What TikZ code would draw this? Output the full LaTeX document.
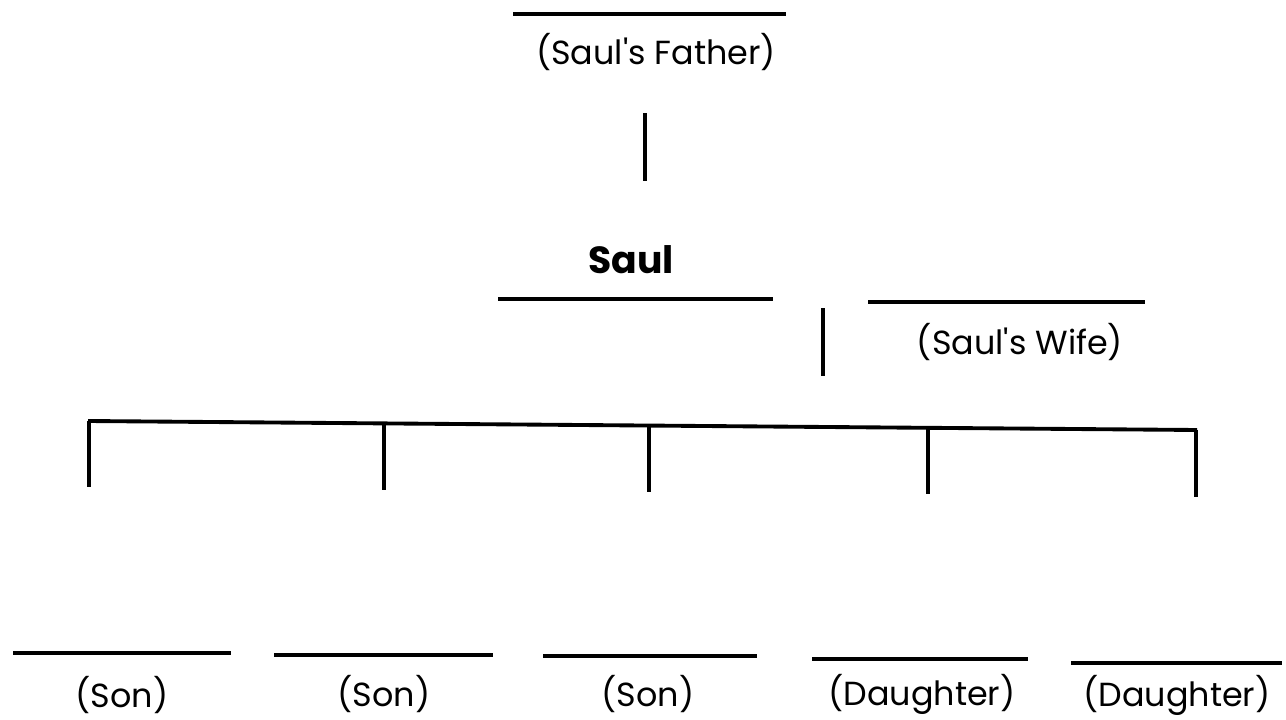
\documentclass[tikz,border=0pt]{standalone}
\usepackage{fontspec}
\setmainfont{Poppins}
\usepackage{tikz}

\tikzset{
	blank/.style={line width=2pt},
	link/.style={line width=2.2pt},
	who/.style={inner sep=0pt,font=\fontsize{19}{22}\selectfont},
	saul/.style={inner sep=0pt,font=\fontsize{21.5}{26}\selectfont\bfseries}
}

\begin{document}
\begin{tikzpicture}[x=0.02cm,y=-0.02cm]
	\useasboundingbox (0,0) rectangle (1286,720);

	% Saul's father
	\coordinate (fatherL) at (513,14);
	\coordinate (fatherR) at (786,14);
	\node[who] (father) at (656,52) {(Saul\textquotesingle s Father)};
	\coordinate (fatherTop) at (645,113);
	\coordinate (fatherBot) at (645,181);

	% Saul and his wife
	\node[saul] (saul) at (631,260) {Saul};
	\coordinate (saulL) at (498,299);
	\coordinate (saulR) at (773,299);
	\coordinate (wifeL) at (868,302);
	\coordinate (wifeR) at (1145,302);
	\node[who] (wife) at (1020,342) {(Saul\textquotesingle s Wife)};
	\coordinate (coupleTop) at (823,308);
	\coordinate (coupleBot) at (823,376);

	% children bar
	\coordinate (barL) at (88,421);
	\coordinate (barR) at (1197,430);
	\coordinate (c1) at (89,421);
	\coordinate (c2) at (384,423);
	\coordinate (c3) at (649,425);
	\coordinate (c4) at (928,428);
	\coordinate (c5) at (1196,430);
	\coordinate (d1) at (89,487);
	\coordinate (d2) at (384,490);
	\coordinate (d3) at (649,492);
	\coordinate (d4) at (928,494);
	\coordinate (d5) at (1196,497);

	% children
	\coordinate (son1L) at (13,653);   \coordinate (son1R) at (231,653);
	\coordinate (son2L) at (274,655);  \coordinate (son2R) at (493,655);
	\coordinate (son3L) at (543,656);  \coordinate (son3R) at (757,656);
	\coordinate (dau1L) at (812,659);  \coordinate (dau1R) at (1028,659);
	\coordinate (dau2L) at (1071,663); \coordinate (dau2R) at (1282,663);
	\node[who] (son1) at (122,695) {(Son)};
	\node[who] (son2) at (384,694) {(Son)};
	\node[who] (son3) at (648,694) {(Son)};
	\node[who] (dau1) at (922,694) {(Daughter)};
	\node[who] (dau2) at (1177,695) {(Daughter)};

	\draw[blank] (fatherL) -- (fatherR);
	\draw[blank] (saulL) -- (saulR);
	\draw[blank] (wifeL) -- (wifeR);
	\draw[blank] (son1L) -- (son1R);
	\draw[blank] (son2L) -- (son2R);
	\draw[blank] (son3L) -- (son3R);
	\draw[blank] (dau1L) -- (dau1R);
	\draw[blank] (dau2L) -- (dau2R);

	\draw[link] (fatherTop) -- (fatherBot);
	\draw[link] (coupleTop) -- (coupleBot);
	\draw[link] (barL) -- (barR);
	\draw[link] (c1) -- (d1);
	\draw[link] (c2) -- (d2);
	\draw[link] (c3) -- (d3);
	\draw[link] (c4) -- (d4);
	\draw[link] (c5) -- (d5);

\end{tikzpicture}
\end{document}
